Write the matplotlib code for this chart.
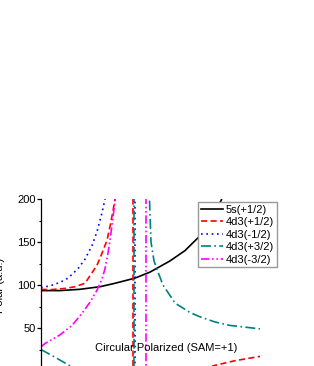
import matplotlib
matplotlib.use('Agg')
from matplotlib import pyplot as plt
from matplotlib.ticker import MultipleLocator, FixedLocator

plt.rcParams['font.family'] = ['Liberation Sans', 'DejaVu Sans']
plt.rcParams['font.size'] = 8

# x is an arbitrary detuning coordinate
x_5s_p12 = [0, 19, 39, 59, 74, 94, 109, 129, 144, 158, 169, 180, 189]
y_5s_p12 = [93.5, 93.5, 95, 98, 102, 108, 115, 128, 140, 156, 175, 198, 225]

x_4d3_p12 = [0, 9, 24, 34, 44, 48, 52, 56, 61, 66, 69, 72, 74, 77, 84, 89,
             91.9, 92.1, 95, 109, 129, 149, 172, 194, 219]
y_4d3_p12 = [95, 94.5, 96, 98, 102, 109, 116, 123, 137, 152, 168, 186, 200, 240, 400, 1000,
             8000, -8000, -1500, -250, -60, -15, 6, 12, 17]

x_4d3_m12 = [0, 9, 19, 27, 37, 44, 51, 56, 61, 64, 69, 79, 87, 93.9, 94.1, 99, 119, 159, 219]
y_4d3_m12 = [97, 99, 103, 108, 119, 130, 146, 162, 184, 200, 260, 450, 1000, 8000, -8000,
             -1500, -300, -80, -35]

x_4d3_p32 = [0, 14, 29, 49, 69, 84, 92.9, 93.1, 99, 105, 108, 110, 113, 117, 122, 134,
             149, 159, 174, 189, 204, 219]
y_4d3_p32 = [25, 16, 6, -10, -45, -150, -8000, 8000, 800, 300, 215, 150, 128, 115, 100, 79,
             68, 63, 57, 53, 51, 49]

x_4d3_m32 = [0, 4, 19, 31, 41, 49, 56, 61, 64, 67, 69, 71, 73, 75, 79, 89, 99,
             104.9, 105.1, 114, 139, 179, 219]
y_4d3_m32 = [28, 32, 42, 53, 67, 80, 94, 107, 119, 137, 152, 170, 188, 205, 280, 700, 2500,
             8000, -8000, -1000, -200, -80, -50]

y_ticks = [50, 100, 150, 200]

fig = plt.figure(figsize=(3.14, 3.66), dpi=100)
ax = fig.add_axes([41 / 314, -5 / 366, 249 / 314, 172 / 366])

lw = 1.2
ax.plot(x_5s_p12, y_5s_p12, color='black', lw=lw, label='5s(+1/2)')
ax.plot(x_4d3_p12, y_4d3_p12, color='#FF0000', lw=lw, ls=(0, (3.7, 2.0)), label='4d3(+1/2)')
ax.plot(x_4d3_m12, y_4d3_m12, color='#0000FF', lw=lw, ls=(0, (1, 2.2)), label='4d3(-1/2)')
ax.plot(x_4d3_p32, y_4d3_p32, color='#008080', lw=lw, ls=(0, (6, 2, 1, 2)), label='4d3(+3/2)')
ax.plot(x_4d3_m32, y_4d3_m32, color='#FF00FF', lw=lw, ls=(0, (5, 1.6, 1, 1.6, 1, 1.6)),
        label='4d3(-3/2)')

ax.set_xlim(0, 249)
ax.set_ylim(0, 200)
for side in ['top', 'right', 'bottom']:
    ax.spines[side].set_visible(False)
ax.spines['left'].set_linewidth(0.9)
ax.set_xticks([])
ax.yaxis.set_major_locator(FixedLocator(y_ticks))
ax.yaxis.set_minor_locator(MultipleLocator(25))
ax.tick_params(axis='y', which='major', direction='out', length=3, width=0.9, pad=1)
ax.tick_params(axis='y', which='minor', direction='out', length=1.6, width=0.8)

ax.set_ylabel('Polar (a.u.)')
ax.yaxis.set_label_coords(-0.143, 0.5)

ax.text(125.5, 26.7, 'Circular Polarized (SAM=+1)', ha='center', va='center')

leg = ax.legend(loc='upper left', bbox_to_anchor=(198 / 314, 1 - 202 / 366),
                bbox_transform=fig.transFigure, borderaxespad=0, borderpad=0.25,
                handlelength=2.0, handletextpad=0.25, labelspacing=0.22,
                fancybox=False, framealpha=1, edgecolor='#999999')
leg.get_frame().set_linewidth(1.0)

fig.savefig('out.png', dpi=100)
